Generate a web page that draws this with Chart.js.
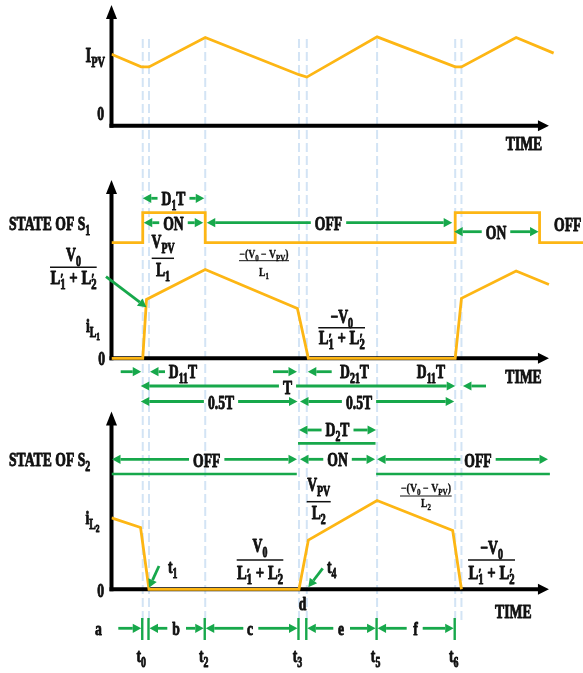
<!DOCTYPE html>
<html>
<head>
<meta charset="utf-8">
<script src="https://cdn.jsdelivr.net/npm/chart.js@4.4.0/dist/chart.umd.min.js"></script>
<style>
  html, body { margin: 0; padding: 0; background: #fff; }
  canvas { display: block; }
</style>
</head>
<body>
<canvas id="wave" width="583" height="673"></canvas>
<script>
// Switching instants t0..t7 (one period T = 10 time units, t0 -> t6)
const markTimes = [1.0, 1.2, 3.0, 6.0, 6.25, 8.5, 11.0, 11.2];

// PV input current
const pvTime    = [0, 0.95, 1.2, 3.0, 6.0, 6.25, 8.5, 11.0, 11.2, 12.95, 14.15];
const pvCurrent = [1.19, 0.98, 0.98, 1.47, 0.85, 0.81, 1.48, 0.98, 0.98, 1.47, 1.21];

// Gate state of S1 (0 = OFF, 1 = ON), value holds until the next instant
const s1Time  = [0, 1.0, 3.0, 11.0, 13.7, 15.09];
const s1State = [0, 1, 0, 1, 0, 0];

// Inductor current iL1
const l1Time    = [0, 1.0, 1.12, 3.0, 5.95, 6.3, 11.0, 11.2, 12.95, 14.0];
const l1Current = [0, 0, 0.98, 1.48, 0.83, 0, 0, 1.0, 1.455, 1.23];

// Gate state of S2, drawn as separate level segments [start, end]
const s2Start = [0, 5.97, 8.47];
const s2End   = [5.93, 8.45, 14.03];
const s2State = [0, 1, 0];

// Inductor current iL2
const l2Time    = [0, 0.93, 1.2, 6.0, 6.3, 8.5, 10.92, 11.2];
const l2Current = [1.19, 1.03, 0, 0, 0.82, 1.48, 0.98, 0];

const SERIF = '"Liberation Serif","Times New Roman",Times,serif';
const INK = '#111111';
const GREEN = '#17a84b';
const AMBER = '#fdb614';
const GUIDE = '#d3e4f5';
const H = 673;

const pts = (xs, ys) => xs.map((x, i) => ({ x, y: ys[i] }));
function s2Points() {
  const out = [];
  s2Start.forEach((a, i) => {
    out.push({ x: a, y: s2State[i] }, { x: s2End[i], y: s2State[i] });
    if (i < s2Start.length - 1) out.push({ x: (s2End[i] + s2Start[i + 1]) / 2, y: null });
  });
  return out;
}
// each panel gets its own value axis spanning the full canvas: zero line at zeroPx, unitPx per unit
function band(zeroPx, unitPx) {
  return { type: 'linear', display: false, bounds: 'data', min: -(H - zeroPx) / unitPx, max: zeroPx / unitPx };
}

// ---------- rich text: "_" subscript, "~" second-level subscript, "'" prime ----------
function tokens(src) {
  const out = [];
  let i = 0;
  while (i < src.length) {
    const c = src[i];
    if (c === '_' || c === '~') {
      let t;
      if (src[i + 1] === '{') { const j = src.indexOf('}', i); t = src.slice(i + 2, j); i = j + 1; }
      else { t = src[i + 1]; i += 2; }
      const prev = out[out.length - 1];
      out.push({ t, k: c === '_' ? 'sub' : 'sub2', stack: !!prev && prev.k === 'sup' });
    } else if (c === "'") {
      out.push({ t: '\u2032', k: 'sup' }); i++;
    } else {
      let j = i;
      while (j < src.length && !"_~'".includes(src[j])) j++;
      out.push({ t: src.slice(i, j), k: 'base' }); i = j;
    }
  }
  return out;
}
const REL = { base: [1, 0], sub: [0.72, 0.25], sub2: [0.55, 0.42], sup: [0.8, 0.02] };
function rich(ctx, src, x, y, size, opt = {}) {
  const align = opt.align || 'center';
  const items = [];
  let cur = 0, lastX = 0, lastW = 0;
  for (const tk of tokens(src)) {
    const [f, off] = REL[tk.k];
    const fs = size * f;
    ctx.font = `bold ${fs}px ${SERIF}`;
    const w = ctx.measureText(tk.t).width;
    if (tk.stack) { items.push({ t: tk.t, fs, off, x: lastX }); cur = lastX + Math.max(lastW, w); }
    else { items.push({ t: tk.t, fs, off, x: cur }); lastX = cur; lastW = w; cur += w; }
  }
  const W = cur;
  const sx = opt.fit ? opt.fit / W : (opt.sx || 0.72);
  if (opt.measure) return W * sx;
  const start = align === 'center' ? -W / 2 : align === 'right' ? -W : 0;
  const heavy = opt.heavy != null ? opt.heavy : (size >= 15 ? 0.9 : 0.35);
  ctx.save();
  ctx.translate(x, y);
  ctx.scale(sx, 1);
  ctx.fillStyle = opt.color || INK;
  ctx.strokeStyle = opt.color || INK;
  ctx.lineWidth = heavy;
  ctx.lineJoin = 'round';
  ctx.textBaseline = 'alphabetic';
  ctx.textAlign = 'left';
  const base = size * 0.33;
  for (const it of items) {
    ctx.font = `bold ${it.fs}px ${SERIF}`;
    ctx.fillText(it.t, start + it.x, base + it.off * size);
    if (heavy > 0) ctx.strokeText(it.t, start + it.x, base + it.off * size);
  }
  ctx.restore();
  return W * sx;
}
function frac(ctx, num, den, cx, yn, yb, yd, x0, x1, size, numOpt, denOpt) {
  rich(ctx, num, cx, yn, size, numOpt || {});
  ctx.save();
  ctx.strokeStyle = INK; ctx.lineWidth = size > 14 ? 1.5 : 1;
  ctx.beginPath(); ctx.moveTo(x0, yb); ctx.lineTo(x1, yb); ctx.stroke();
  ctx.restore();
  rich(ctx, den, cx, yd, size, denOpt || {});
}

// ---------- arrows ----------
function arrow(ctx, x1, y1, x2, y2, color = GREEN, lw = 2.8, hl = 8.5, hw = 4.6) {
  const a = Math.atan2(y2 - y1, x2 - x1);
  const bx = x2 - hl * Math.cos(a), by = y2 - hl * Math.sin(a);
  ctx.save();
  ctx.strokeStyle = color; ctx.lineWidth = lw;
  ctx.beginPath(); ctx.moveTo(x1, y1); ctx.lineTo(bx, by); ctx.stroke();
  ctx.fillStyle = color;
  ctx.beginPath();
  ctx.moveTo(x2, y2);
  ctx.lineTo(bx - hw * Math.sin(a), by + hw * Math.cos(a));
  ctx.lineTo(bx + hw * Math.sin(a), by - hw * Math.cos(a));
  ctx.closePath(); ctx.fill();
  ctx.restore();
}
// dimension arrow "<-- label -->" spanning xa..xb
function dim(ctx, xa, xb, y, label, lx, ty, size = 19) {
  if (lx == null) lx = (xa + xb) / 2;
  if (ty == null) ty = y + 0.5;
  const w = rich(ctx, label, lx, ty, size, { measure: true });
  arrow(ctx, lx - w / 2 - 4, y, xa, y);
  arrow(ctx, lx + w / 2 + 4, y, xb, y);
  rich(ctx, label, lx, ty, size);
}
function vTick(ctx, x, y0, y1) {
  ctx.save();
  ctx.strokeStyle = GREEN; ctx.lineWidth = 2.4;
  ctx.beginPath(); ctx.moveTo(x, y0); ctx.lineTo(x, y1); ctx.stroke();
  ctx.restore();
}

// ---------- axes with arrow heads ----------
function axisUp(ctx, x, yBottom, yTip) {
  ctx.save();
  ctx.strokeStyle = '#000'; ctx.fillStyle = '#000'; ctx.lineWidth = 4;
  ctx.beginPath(); ctx.moveTo(x, yBottom + 2); ctx.lineTo(x, yTip + 12); ctx.stroke();
  ctx.beginPath(); ctx.moveTo(x, yTip); ctx.lineTo(x - 5.5, yTip + 14); ctx.lineTo(x + 5.5, yTip + 14); ctx.closePath(); ctx.fill();
  ctx.restore();
}
function axisRight(ctx, x0, xTip, y) {
  ctx.save();
  ctx.strokeStyle = '#000'; ctx.fillStyle = '#000'; ctx.lineWidth = 4;
  ctx.beginPath(); ctx.moveTo(x0 - 2, y); ctx.lineTo(xTip - 9, y); ctx.stroke();
  ctx.beginPath(); ctx.moveTo(xTip, y); ctx.lineTo(xTip - 11, y - 5.5); ctx.lineTo(xTip - 11, y + 5.5); ctx.closePath(); ctx.fill();
  ctx.restore();
}

const diagram = {
  id: 'diagram',
  beforeDatasetsDraw(chart) {
    const ctx = chart.ctx, s = chart.scales, X = v => s.x.getPixelForValue(v);
    // timing guides
    ctx.save();
    ctx.strokeStyle = GUIDE; ctx.lineWidth = 2; ctx.setLineDash([9, 4]);
    markTimes.forEach(t => { ctx.beginPath(); ctx.moveTo(X(t), 39); ctx.lineTo(X(t), 622); ctx.stroke(); });
    ctx.restore();
    // axes
    const x0 = X(0), tip = X(14.0);
    axisUp(ctx, x0, s.yPV.getPixelForValue(0), 5);
    axisRight(ctx, x0, tip, s.yPV.getPixelForValue(0));
    axisUp(ctx, x0, s.yL1.getPixelForValue(0), 180);
    axisRight(ctx, x0, tip, s.yL1.getPixelForValue(0));
    axisUp(ctx, x0, s.yL2.getPixelForValue(0), 411.5);
    axisRight(ctx, x0, tip, s.yL2.getPixelForValue(0));
  },
  afterDatasetsDraw(chart) {
    const ctx = chart.ctx, s = chart.scales, X = v => s.x.getPixelForValue(v);
    const [t0, t1, t2, t3, t4, t5, t6, t7] = markTimes;

    // ----- panel 1: PV current -----
    rich(ctx, 'I_{PV}', 105, 55.4, 20, { align: 'right' });
    rich(ctx, '0', 104, 113.7, 19, { align: 'right' });
    rich(ctx, 'TIME', 524, 143.7, 19);

    // ----- panel 2: S1 state and iL1 -----
    rich(ctx, 'STATE OF S_1', 9, 223.5, 19, { align: 'left' });
    dim(ctx, X(t0), X(t2) - 1, 198.3, 'D_1T', null, 199);
    dim(ctx, X(t0) + 1, X(t2) - 2, 222.7, 'ON', null, 223.3);
    dim(ctx, X(t2) + 1.5, X(t6) - 3, 222.7, 'OFF', 328.5, 223.3);
    dim(ctx, X(t6) - 1, X(13.7) - 1, 231.7, 'ON', 496, 232.7);
    rich(ctx, 'OFF', 554, 224.5, 19, { align: 'left' });

    frac(ctx, 'V_0', "L'_1 + L'_2", 73.5, 254.5, 267.3, 277.5, 50, 96.7, 19, {}, { fit: 46 });
    arrow(ctx, 106, 276.7, X(1.12), s.yL1.getPixelForValue(0.85));
    frac(ctx, 'V_{PV}', 'L_1', 163, 241.5, 258.3, 269.5, 151.7, 174, 19);
    frac(ctx, '\u2212(V_0 \u2212 V_{PV})', 'L_1', 264, 254, 260.7, 272, 239, 289, 12, { fit: 49 }, { sx: 0.8 });
    rich(ctx, 'i_L~1', 100, 325.7, 19, { align: 'right' });
    rich(ctx, '0', 105, 358.7, 19, { align: 'right' });
    frac(ctx, '\u2212V_0', "L'_1 + L'_2", 341.7, 316.5, 327.7, 337.5, 318.3, 365, 19, {}, { fit: 46 });
    rich(ctx, 'TIME', 523.5, 376.7, 19);

    // interval marks below iL1
    arrow(ctx, 120.7, 371.7, X(t0) - 1.5, 371.7);
    arrow(ctx, 165, 371.7, X(t1) + 1, 371.7);
    rich(ctx, 'D_{11}T', 183, 371.5, 19);
    arrow(ctx, 273, 371.7, X(t3) - 2, 371.7);
    arrow(ctx, 331.7, 371.7, X(t4) + 1, 371.7);
    rich(ctx, 'D_{21}T', 354.5, 371.5, 19);
    rich(ctx, 'D_{11}T', 431, 371.5, 19);
    dim(ctx, X(t0) - 2, X(t6), 386, 'T', 287.5, 387.5);
    arrow(ctx, 486, 386, X(t7) + 1.5, 386);
    dim(ctx, X(t0) - 2, X(t3) - 1.5, 401.5, '0.5T', 221, 402.5);
    dim(ctx, X(t3) + 1, X(t6) - 1, 401.5, '0.5T', 359, 402.5);

    // ----- panel 3: S2 state and iL2 -----
    dim(ctx, X(t3), X(t5) - 1, 430, 'D_2T', null, 429.5);
    rich(ctx, 'STATE OF S_2', 9, 459.5, 19, { align: 'left' });
    dim(ctx, X(0) + 0.5, X(t3) - 2, 459.3, 'OFF', 206.7, 460.5);
    dim(ctx, X(t3) + 1, X(t5) - 2, 459.3, 'ON', null, 460);
    dim(ctx, X(t5), X(13.97), 459.3, 'OFF', 478, 460.5);

    rich(ctx, 'i_L~2', 99.5, 517.7, 19, { align: 'right' });
    frac(ctx, 'V_{PV}', 'L_2', 318.7, 485, 501.7, 513, 306.7, 330.7, 19);
    frac(ctx, '\u2212(V_0 \u2212 V_{PV})', 'L_2', 426, 488.5, 496, 503, 400, 451.7, 12, { fit: 50 }, { sx: 0.8 });
    frac(ctx, 'V_0', "L'_1 + L'_2", 260, 546, 560, 572.5, 236.7, 283.3, 19, {}, { fit: 46 });
    frac(ctx, '\u2212V_0', "L'_1 + L'_2", 491.5, 548, 560, 572.5, 468, 515, 19, {}, { fit: 46 });
    arrow(ctx, 159, 566, X(t1), s.yL2.getPixelForValue(0) - 1.5);
    rich(ctx, 't_1', 168, 566.5, 19, { align: 'left' });
    arrow(ctx, 322.7, 568.3, X(t4) + 1.5, s.yL2.getPixelForValue(0) - 2);
    rich(ctx, 't_4', 327, 566.5, 19, { align: 'left' });
    rich(ctx, '0', 104, 590.7, 19, { align: 'right' });
    rich(ctx, 'd', 302.5, 603.7, 19);
    rich(ctx, 'TIME', 513.3, 611.7, 19);

    // sub-interval row a..f
    const ry = 628.3;
    [t0, t1, t2, t3, t4, t5, t6].forEach(t => vTick(ctx, X(t) - 0.5, 618, 640));
    rich(ctx, 'a', 98.3, 628.7, 19);
    arrow(ctx, 118.3, ry, X(t0) - 1.5, ry);
    arrow(ctx, 167.3, ry, X(t1) + 0.5, ry);
    rich(ctx, 'b', 176, 628.7, 19);
    arrow(ctx, 186, ry, X(t2) - 1.5, ry);
    arrow(ctx, 243.3, ry, X(t2) + 0.5, ry);
    rich(ctx, 'c', 250, 628.7, 19);
    arrow(ctx, 258.3, ry, X(t3) - 1.5, ry);
    arrow(ctx, 333.3, ry, X(t4) + 0.5, ry);
    rich(ctx, 'e', 341, 628.7, 19);
    arrow(ctx, 350, ry, X(t5) - 1.5, ry);
    arrow(ctx, 406.7, ry, X(t5) + 0.5, ry);
    rich(ctx, 'f', 415.5, 628.7, 19);
    arrow(ctx, 422.7, ry, X(t6) - 1.5, ry);

    // instant labels
    [['t_0', t0], ['t_2', t2], ['t_3', t3], ['t_5', t5], ['t_6', t6]].forEach(([lab, t]) =>
      rich(ctx, lab, X(t) - 1.5, 655.7, 19));
  }
};

const line = (data, yAxisID, color, extra = {}) => Object.assign({
  data, yAxisID, xAxisID: 'x', borderColor: color, borderWidth: 2.8,
  pointRadius: 0, fill: false, tension: 0, borderJoinStyle: 'miter', spanGaps: false
}, extra);

new Chart(document.getElementById('wave'), {
  type: 'line',
  data: {
    datasets: [
      line(pts(pvTime, pvCurrent), 'yPV', AMBER),
      line(pts(s1Time, s1State), 'yS1', AMBER, { stepped: 'before' }),
      line(pts(l1Time, l1Current), 'yL1', AMBER),
      line(s2Points(), 'yS2', GREEN, { borderWidth: 2.7, borderCapStyle: 'butt' }),
      line(pts(l2Time, l2Current), 'yL2', AMBER)
    ]
  },
  options: {
    responsive: false,
    animation: false,
    events: [],
    layout: { padding: { left: 111.5, right: 0, top: 0, bottom: 0 } },
    scales: {
      x: { type: 'linear', display: false, bounds: 'data', min: 0, max: 15.09 },
      yPV: band(125.7, 60),
      yS1: band(242.7, 30),
      yL1: band(358.3, 60),
      yS2: band(474, 30.7),
      yL2: band(589.3, 60)
    },
    plugins: { legend: { display: false }, tooltip: { enabled: false }, title: { display: false } }
  },
  plugins: [diagram]
});
</script>
</body>
</html>
